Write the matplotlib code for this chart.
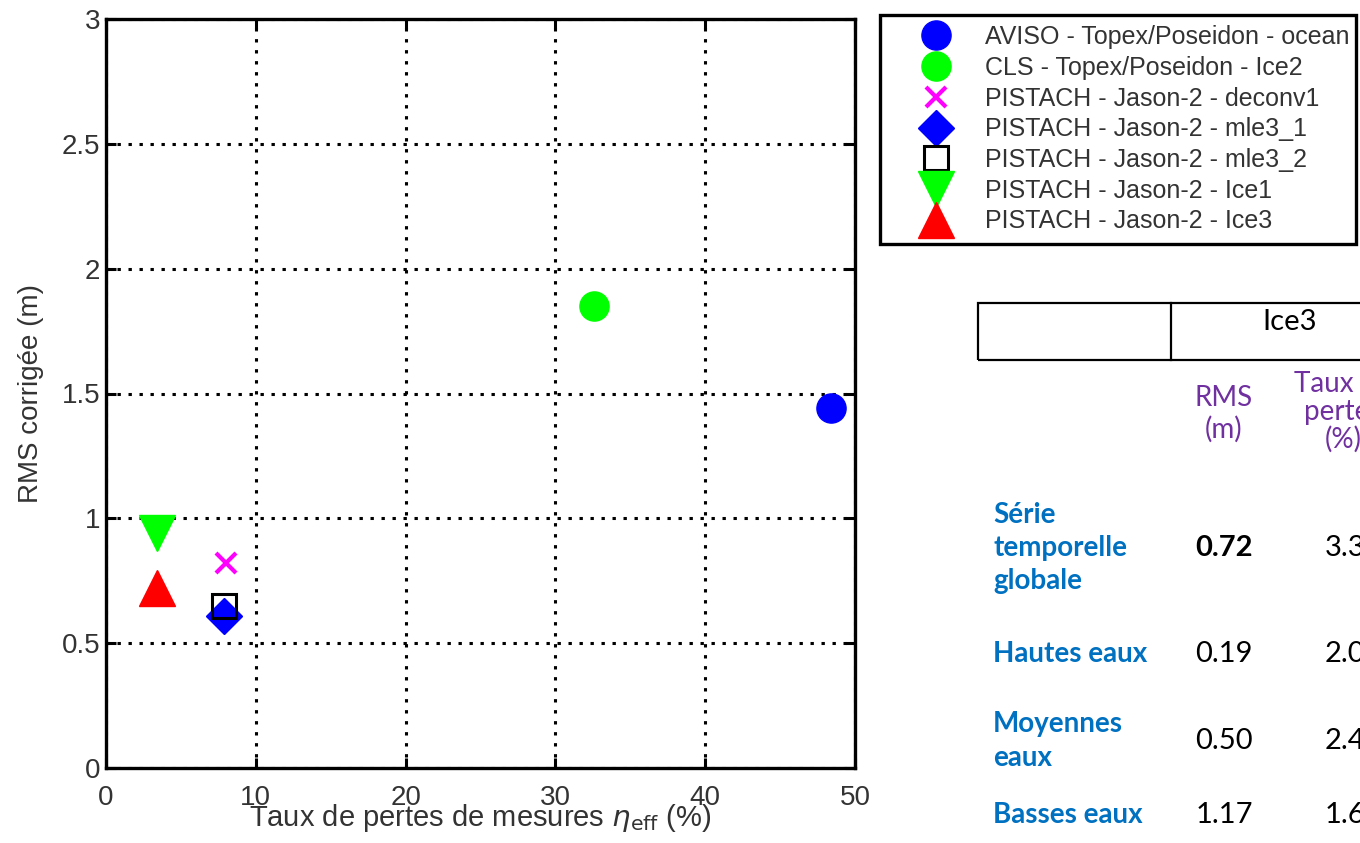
import matplotlib
matplotlib.use("Agg")
import matplotlib.pyplot as plt
from matplotlib.patches import Rectangle
from matplotlib.lines import Line2D
from matplotlib.transforms import Bbox, TransformedBbox

# data
labels = ["AVISO - Topex/Poseidon - ocean",
          "CLS - Topex/Poseidon - Ice2",
          "PISTACH - Jason-2 - deconv1",
          "PISTACH - Jason-2 - mle3_1",
          "PISTACH - Jason-2 - mle3_2",
          "PISTACH - Jason-2 - Ice1",
          "PISTACH - Jason-2 - Ice3"]
pertes = [48.4, 32.6, 8.0, 7.9, 7.9, 3.4, 3.4]
rms = [1.44, 1.85, 0.82, 0.61, 0.65, 0.94, 0.72]

markers = ["o", "o", "x", "D", "s", "v", "^"]
colors = ["#0000ff", "#00ff00", "#ff00ff", "#0000ff", "none", "#00ff00", "#ff0000"]
edges = ["#0000ff", "#00ff00", "#ff00ff", "#0000ff", "black", "#00ff00", "#ff0000"]
sizes = [21, 21, 14, 18, 17, 26, 26]
ew = [1, 1, 3, 1, 2.2, 1, 1]

tab_rows = ["Série\ntemporelle\nglobale", "Hautes eaux", "Moyennes\neaux", "Basses eaux"]
tab_rms = ["0.72", "0.19", "0.50", "1.17"]
tab_pertes = ["3.3", "2.0", "2.4", "1.6"]

W, H = 1360, 843
fig = plt.figure(figsize=(W / 100, H / 100), dpi=100)
ax = fig.add_axes([106 / W, 1 - 768 / H, (855 - 106) / W, (768 - 19) / H])

handles = []
for i in range(len(labels)):
    h, = ax.plot(pertes[i], rms[i], linestyle="none", marker=markers[i],
                 markersize=sizes[i], markerfacecolor=colors[i],
                 markeredgecolor=edges[i], markeredgewidth=ew[i],
                 color=edges[i], zorder=3, clip_on=False)
    handles.append(h)

ax.set_xlim(0, 50)
ax.set_ylim(0, 3)
ax.set_xticks([0, 10, 20, 30, 40, 50])
ax.set_yticks([0, 0.5, 1, 1.5, 2, 2.5, 3])
ax.set_yticklabels(["0", "0.5", "1", "1.5", "2", "2.5", "3"])
ax.grid(True, color="black", linewidth=2.2, linestyle=(0, (1.1, 2.5)))
ax.set_axisbelow(True)
for s in ax.spines.values():
    s.set_linewidth(2.4)
ax.tick_params(direction="in", length=7, width=2.2, top=True, right=True,
               labelsize=20, labelcolor="#333333")
ax.tick_params(axis="x", pad=12)
ax.tick_params(axis="y", pad=4)
for t in ax.get_xticklabels() + ax.get_yticklabels():
    t.set_family("Liberation Sans")

ax.set_xlabel(r"Taux de pertes de mesures $\eta_{\mathrm{eff}}$ (%)",
              fontsize=21, family="Liberation Sans", color="#333333")
ax.set_ylabel("RMS corrigée (m)", fontsize=20, family="Liberation Sans",
              color="#333333")
ax.xaxis.set_label_coords(0.5, -0.045)
ax.yaxis.set_label_coords(-0.083, 0.5)

# legend box, text cut at the right edge like the original
x0, x1, y0, y1 = 880 / W, 1356 / W, 1 - 243 / H, 1 - 15 / H
leg = fig.legend(handles, labels, loc="upper left",
                 bbox_to_anchor=(x0, y0, x1 - x0, y1 - y0), mode="expand",
                 borderaxespad=0, borderpad=0.4, numpoints=1,
                 handlelength=3.7, handletextpad=0.1, labelspacing=0.27,
                 fancybox=False, framealpha=1, edgecolor="black",
                 prop={"family": "Liberation Sans", "size": 18})
leg.get_frame().set_linewidth(2.4)
clip = TransformedBbox(Bbox([[x0, y0], [x1, y1]]), fig.transFigure)
for t in leg.get_texts():
    t.set_color("#333333")
    t.set_clip_box(clip)
    t.set_clip_on(True)

# table on the right
fig.add_artist(Rectangle((978 / W, 1 - 360 / H), 0.5, 57 / H, fill=False,
                         linewidth=1.6, edgecolor="black",
                         transform=fig.transFigure))
fig.add_artist(Line2D([1171 / W, 1171 / W], [1 - 360 / H, 1 - 303 / H],
                      linewidth=1.6, color="black", transform=fig.transFigure))
fig.text(1290 / W, 1 - 322 / H, "Ice3", fontsize=21, family="Lato",
         ha="center", va="center")
purple = "#7030a0"
blue = "#0070c0"
fig.text(1224 / W, 1 - 414 / H, "RMS\n(m)", fontsize=20, family="Lato",
         color=purple, ha="center", va="center", linespacing=1.2)
fig.text(1343 / W, 1 - 412 / H, "Taux de\npertes\n(%)", fontsize=20,
         family="Lato", color=purple, ha="center", va="center",
         linespacing=1.05)

row_y = [548, 654, 741, 815]
for i in range(len(tab_rows)):
    y = 1 - row_y[i] / H
    fig.text(993 / W, y, tab_rows[i], fontsize=20, family="Lato",
             weight="bold", color=blue, ha="left", va="center",
             linespacing=1.35)
    fig.text(1224 / W, y, tab_rms[i], fontsize=21, family="Lato",
             weight="bold" if i == 0 else "normal", color="black",
             ha="center", va="center")
    fig.text(1325 / W, y, tab_pertes[i], fontsize=21, family="Lato",
             color="black", ha="left", va="center")

fig.savefig("out.png", dpi=100)
